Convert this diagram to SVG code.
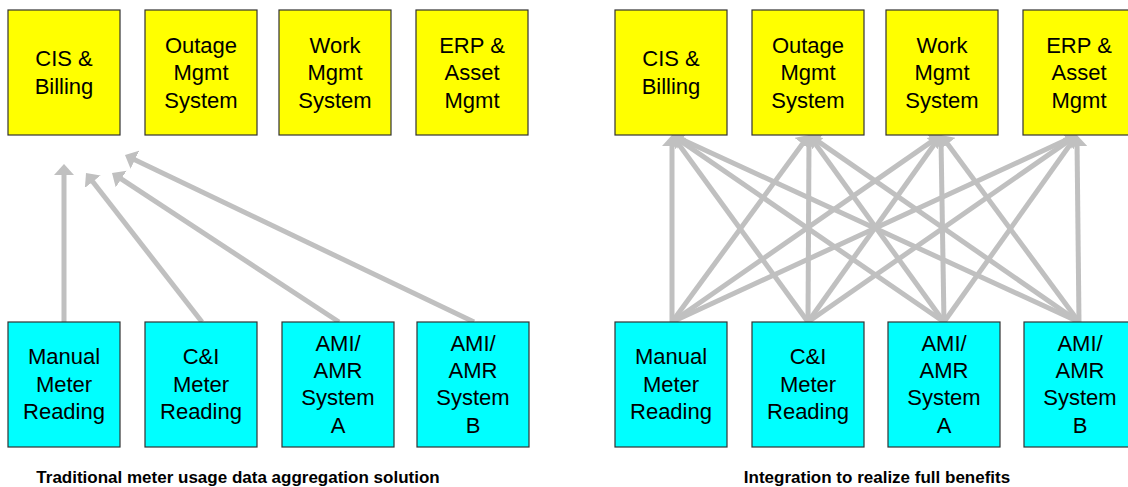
<svg xmlns="http://www.w3.org/2000/svg" width="1128" height="487" viewBox="0 0 1128 487">
<defs>
<style>
.top{fill:#FFFF00;stroke:#333;stroke-width:1.2}
.bot{fill:#00FFFF;stroke:#333;stroke-width:1.2}
.t{font-family:"Liberation Sans",Arial,sans-serif;font-size:22px;fill:#000;text-anchor:middle}
.cap{font-family:"Liberation Sans",Arial,sans-serif;font-size:17px;font-weight:bold;fill:#000;text-anchor:middle}
.c line{stroke:#C0C0C0;stroke-width:5;marker-end:url(#ah)}
</style>
<marker id="ah" markerUnits="userSpaceOnUse" markerWidth="12" markerHeight="20" refX="6" refY="10" orient="auto">
<path d="M0,0 L11,10 L0,20 z" fill="#C0C0C0"/>
</marker>
</defs>
<rect width="1128" height="487" fill="#fff"/>

<g class="c" id="connectors-left">
<line x1="64" y1="322" x2="64" y2="169"/>
<line x1="202" y1="322" x2="89.1" y2="177"/>
<line x1="339" y1="322" x2="116.2" y2="175.7"/>
<line x1="474" y1="322" x2="129.5" y2="157.2"/>
</g>

<g class="c" id="connectors-right">
<line x1="672" y1="322" x2="672" y2="140"/>
<line x1="672" y1="322" x2="806.04" y2="139"/>
<line x1="672" y1="322" x2="936.89" y2="137.85"/>
<line x1="672" y1="322" x2="1072.46" y2="137.1"/>
<line x1="808" y1="322" x2="674.94" y2="139.04"/>
<line x1="808" y1="322" x2="809" y2="140"/>
<line x1="808" y1="322" x2="938.1" y2="139.07"/>
<line x1="808" y1="322" x2="1072.89" y2="137.85"/>
<line x1="944" y1="322" x2="676.12" y2="137.83"/>
<line x1="944" y1="322" x2="811.93" y2="139.05"/>
<line x1="944" y1="322" x2="941" y2="140"/>
<line x1="944" y1="322" x2="1074.1" y2="139.07"/>
<line x1="1079" y1="322" x2="676.54" y2="137.09"/>
<line x1="1079" y1="322" x2="813.11" y2="137.85"/>
<line x1="1079" y1="322" x2="943.97" y2="139.02"/>
<line x1="1079" y1="322" x2="1077" y2="140"/>
</g>

<!-- Left side -->
<g id="L-cis"><rect class="top" x="8" y="10" width="112" height="125"/>
<text class="t" x="64" y="66">CIS &amp;</text><text class="t" x="64" y="94">Billing</text></g>
<g id="L-outage"><rect class="top" x="145" y="10" width="112" height="125"/>
<text class="t" x="201" y="52.5">Outage</text><text class="t" x="201" y="80">Mgmt</text><text class="t" x="201" y="107.5">System</text></g>
<g id="L-work"><rect class="top" x="279" y="10" width="112" height="125"/>
<text class="t" x="335" y="52.5">Work</text><text class="t" x="335" y="80">Mgmt</text><text class="t" x="335" y="107.5">System</text></g>
<g id="L-erp"><rect class="top" x="416" y="10" width="112" height="125"/>
<text class="t" x="472" y="52.5">ERP &amp;</text><text class="t" x="472" y="80">Asset</text><text class="t" x="472" y="107.5">Mgmt</text></g>

<g id="L-manual"><rect class="bot" x="8" y="322" width="112" height="125"/>
<text class="t" x="64" y="364">Manual</text><text class="t" x="64" y="391.5">Meter</text><text class="t" x="64" y="419">Reading</text></g>
<g id="L-ci"><rect class="bot" x="145" y="322" width="112" height="125"/>
<text class="t" x="201" y="364">C&amp;I</text><text class="t" x="201" y="391.5">Meter</text><text class="t" x="201" y="419">Reading</text></g>
<g id="L-amia"><rect class="bot" x="282" y="322" width="112" height="125"/>
<text class="t" x="338" y="350.5">AMI/</text><text class="t" x="338" y="378">AMR</text><text class="t" x="338" y="405">System</text><text class="t" x="338" y="432.5">A</text></g>
<g id="L-amib"><rect class="bot" x="417" y="322" width="112" height="125"/>
<text class="t" x="473" y="350.5">AMI/</text><text class="t" x="473" y="378">AMR</text><text class="t" x="473" y="405">System</text><text class="t" x="473" y="432.5">B</text></g>

<!-- Right side -->
<g id="R-cis"><rect class="top" x="615" y="10" width="112" height="125"/>
<text class="t" x="671" y="66">CIS &amp;</text><text class="t" x="671" y="94">Billing</text></g>
<g id="R-outage"><rect class="top" x="752" y="10" width="112" height="125"/>
<text class="t" x="808" y="52.5">Outage</text><text class="t" x="808" y="80">Mgmt</text><text class="t" x="808" y="107.5">System</text></g>
<g id="R-work"><rect class="top" x="886" y="10" width="112" height="125"/>
<text class="t" x="942" y="52.5">Work</text><text class="t" x="942" y="80">Mgmt</text><text class="t" x="942" y="107.5">System</text></g>
<g id="R-erp"><rect class="top" x="1023" y="10" width="112" height="125"/>
<text class="t" x="1079" y="52.5">ERP &amp;</text><text class="t" x="1079" y="80">Asset</text><text class="t" x="1079" y="107.5">Mgmt</text></g>

<g id="R-manual"><rect class="bot" x="615" y="322" width="112" height="125"/>
<text class="t" x="671" y="364">Manual</text><text class="t" x="671" y="391.5">Meter</text><text class="t" x="671" y="419">Reading</text></g>
<g id="R-ci"><rect class="bot" x="752" y="322" width="112" height="125"/>
<text class="t" x="808" y="364">C&amp;I</text><text class="t" x="808" y="391.5">Meter</text><text class="t" x="808" y="419">Reading</text></g>
<g id="R-amia"><rect class="bot" x="888" y="322" width="112" height="125"/>
<text class="t" x="944" y="350.5">AMI/</text><text class="t" x="944" y="378">AMR</text><text class="t" x="944" y="405">System</text><text class="t" x="944" y="432.5">A</text></g>
<g id="R-amib"><rect class="bot" x="1024" y="322" width="112" height="125"/>
<text class="t" x="1080" y="350.5">AMI/</text><text class="t" x="1080" y="378">AMR</text><text class="t" x="1080" y="405">System</text><text class="t" x="1080" y="432.5">B</text></g>

<g id="captions">
<text class="cap" x="238" y="483">Traditional meter usage data aggregation solution</text>
<text class="cap" x="877" y="483">Integration to realize full benefits</text>
</g>
</svg>
